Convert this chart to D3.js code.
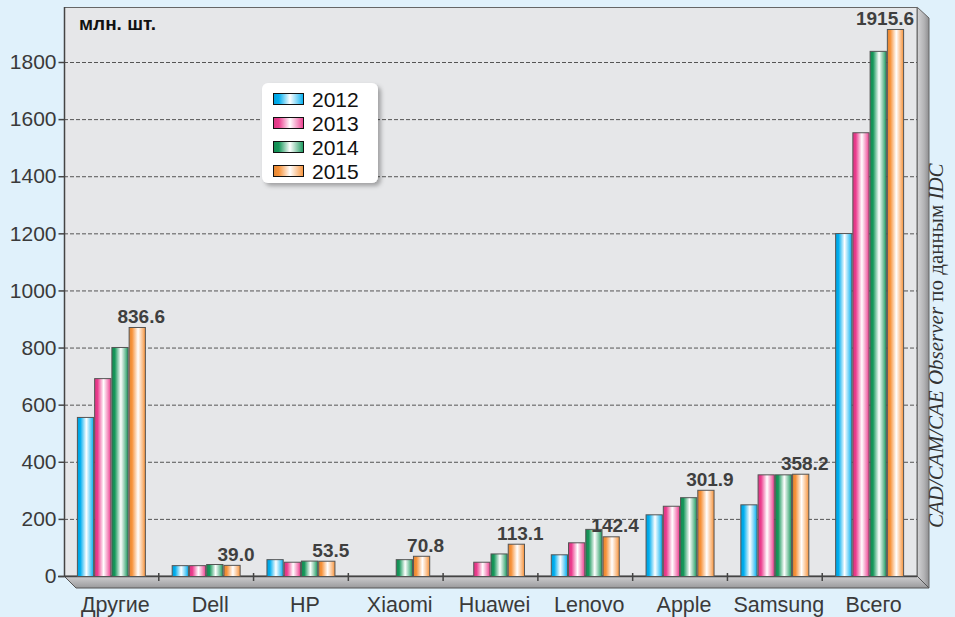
<!DOCTYPE html>
<html><head><meta charset="utf-8">
<script src="https://cdn.jsdelivr.net/npm/d3@7"></script>
<style>
html,body{margin:0;padding:0;background:#e0f1fb;}
svg{display:block;}
</style></head>
<body>
<svg id="chart" width="955" height="617"></svg>
<script>
const categories = ["Другие","Dell","HP","Xiaomi","Huawei","Lenovo","Apple","Samsung","Всего"];
const years = ["2012","2013","2014","2015"];
const v2012 = [557, 38, 59, null, null, 76, 216, 251, 1201];
const v2013 = [693, 38, 50, null, 50, 118, 246, 356, 1554];
const v2014 = [802, 42, 54, 59, 79, 165, 276, 356, 1839];
const v2015 = [872, 39, 53.5, 70.8, 113.1, 139, 301.9, 358.2, 1915.6];
const labels2015 = ["836.6","39.0","53.5","70.8","113.1","142.4","301.9","358.2","1915.6"];
const yTicks = [0,200,400,600,800,1000,1200,1400,1600,1800];
const seriesColors = ["#00aeef","#ec3c8e","#16975a","#f79239"];
const unitLabel = "млн. шт.";
const sourceParts = [["CAD/CAM/CAE Observer","italic"],[" по данным ","normal"],["IDC","italic"]];

const series = [v2012, v2013, v2014, v2015];
const svg = d3.select("#chart");
const L = 64, R = 917, T = 7, B = 576, D = 12;
const SANS = "'Liberation Sans', Arial, sans-serif";

const defs = svg.append("defs");
seriesColors.forEach((c, i) => {
  const g = defs.append("linearGradient").attr("id", "g" + i).attr("x1", "0").attr("x2", "1").attr("y1", "0").attr("y2", "0");
  const col = d3.color(c);
  g.append("stop").attr("offset", "0").attr("stop-color", col.darker(0.25));
  g.append("stop").attr("offset", "0.18").attr("stop-color", c);
  g.append("stop").attr("offset", "0.55").attr("stop-color", "#ffffff");
  g.append("stop").attr("offset", "0.85").attr("stop-color", d3.interpolateRgb(c, "#fff")(0.35));
  g.append("stop").attr("offset", "1").attr("stop-color", c);
});
const wallG = defs.append("linearGradient").attr("id", "wall").attr("x1", "0").attr("x2", "1");
wallG.append("stop").attr("offset", "0").attr("stop-color", "#d4d4d6");
wallG.append("stop").attr("offset", "0.6").attr("stop-color", "#b2b2b4");
wallG.append("stop").attr("offset", "1").attr("stop-color", "#8e8e90");
const floorG = defs.append("linearGradient").attr("id", "floor").attr("x1", "0").attr("x2", "0").attr("y1", "0").attr("y2", "1");
floorG.append("stop").attr("offset", "0").attr("stop-color", "#d0d0d2");
floorG.append("stop").attr("offset", "1").attr("stop-color", "#9a9a9c");
const sh = defs.append("filter").attr("id", "shadow").attr("x", "-10%").attr("y", "-10%").attr("width", "130%").attr("height", "130%");
sh.append("feDropShadow").attr("dx", 3).attr("dy", 3).attr("stdDeviation", 2).attr("flood-color", "#000").attr("flood-opacity", 0.3);

// plot background
svg.append("rect").attr("x", L).attr("y", T).attr("width", R - L).attr("height", B - T).attr("fill", "#e6e7e9");
// right wall
svg.append("polygon").attr("points", [[R, T], [R + D, T + D - 1], [R + D, B + D], [R, B]].join(" "))
  .attr("fill", "url(#wall)").attr("stroke", "#666").attr("stroke-width", 1);
// floor
svg.append("polygon").attr("points", [[L, B], [R, B], [R + D, B + D], [L + D, B + D]].join(" "))
  .attr("fill", "url(#floor)").attr("stroke", "#555").attr("stroke-width", 1);

const y = d3.scaleLinear().domain([0, 2000]).range([B, B - 2000 * (B - 62) / 1800]);
const x0 = d3.scaleBand().domain(categories).range([L, R]).padding(0);
const x1 = d3.scaleBand().domain(years).range([12.9, x0.bandwidth() - 12.9]).padding(0);

// gridlines
svg.append("g").selectAll("line").data(yTicks.filter(t => t > 0)).join("line")
  .attr("x1", L).attr("x2", R).attr("y1", d => y(d) + 0.5).attr("y2", d => y(d) + 0.5)
  .attr("stroke", "#555").attr("stroke-width", 1).attr("stroke-dasharray", "4,2");

// plot borders
svg.append("line").attr("x1", L).attr("x2", R).attr("y1", T + 0.5).attr("y2", T + 0.5).attr("stroke", "#666");
svg.append("line").attr("x1", R + 0.5).attr("x2", R + 0.5).attr("y1", T).attr("y2", B).attr("stroke", "#777");

// y axis
const yAxis = d3.axisLeft(y).tickValues(yTicks).tickSize(6).tickPadding(2).tickFormat(d3.format("d"));
const ya = svg.append("g").attr("transform", `translate(${L + 0.5},0)`).call(yAxis);
ya.select(".domain").attr("d", `M0,${T}V${B}`).attr("stroke", "#444").attr("stroke-width", 1.5);
ya.selectAll(".tick line").attr("stroke", "#444").attr("stroke-width", 1.5);
ya.selectAll(".tick text").attr("font-family", SANS).attr("font-size", 21).attr("fill", "#3a3a3a");

// x axis
const xa = svg.append("g").attr("transform", `translate(0,${B})`);
xa.append("line").attr("x1", L - 6).attr("x2", R).attr("y1", 0.5).attr("y2", 0.5).attr("stroke", "#444").attr("stroke-width", 1.5);
xa.selectAll("line.t").data(categories.slice(1)).join("line").attr("class", "t")
  .attr("x1", d => x0(d)).attr("x2", d => x0(d)).attr("y1", -3).attr("y2", 5).attr("stroke", "#444").attr("stroke-width", 1.5);
xa.selectAll("text").data(categories).join("text")
  .attr("x", d => x0(d) + x0.bandwidth() / 2 + 4).attr("y", 36)
  .attr("text-anchor", "middle").attr("font-family", SANS).attr("font-size", 21.5).attr("fill", "#3a3a3a")
  .text(d => d);

// bars
const gBars = svg.append("g");
categories.forEach((c, ci) => {
  series.forEach((s, si) => {
    const v = s[ci];
    if (v == null) return;
    gBars.append("rect")
      .attr("x", x0(c) + x1(years[si]) + 0.5).attr("y", y(v) + 0.5)
      .attr("width", x1.bandwidth() - 1).attr("height", B - y(v))
      .attr("fill", `url(#g${si})`).attr("stroke", "#555").attr("stroke-width", 1);
  });
});

// value labels
svg.append("g").selectAll("text").data(categories).join("text")
  .attr("x", (d, i) => Math.min(x0(d) + x1("2015") + x1.bandwidth() / 2 + 4, R - 32))
  .attr("y", (d, i) => y(v2015[i]) - 4)
  .attr("text-anchor", "middle").attr("font-family", SANS)
  .attr("font-weight", "bold").attr("font-size", 19).attr("fill", "#3f3f3f")
  .text((d, i) => labels2015[i]);

// unit label
svg.append("text").attr("x", 79).attr("y", 30).attr("font-family", SANS)
  .attr("font-weight", "bold").attr("font-size", 19).attr("fill", "#111").text(unitLabel);

// legend
const lg = svg.append("g").attr("transform", "translate(262,83)");
lg.append("rect").attr("width", 116).attr("height", 100).attr("rx", 6).attr("fill", "#fff").attr("filter", "url(#shadow)");
years.forEach((yr, i) => {
  const row = lg.append("g").attr("transform", `translate(11,${10 + i * 24})`);
  row.append("rect").attr("x", 0.5).attr("y", 0.5).attr("width", 30).attr("height", 11)
    .attr("fill", `url(#g${i})`).attr("stroke", "#111").attr("stroke-width", 1);
  row.append("text").attr("x", 39).attr("y", 13.5).attr("font-family", SANS)
    .attr("font-size", 21).attr("fill", "#111").text(yr);
});

// source text
const st = svg.append("text").attr("transform", "translate(943,528) rotate(-90)")
  .attr("font-family", "'Liberation Serif', 'Times New Roman', serif").attr("font-size", 21).attr("fill", "#333");
sourceParts.forEach(p => st.append("tspan").attr("font-style", p[1]).text(p[0]));
</script>
</body></html>
